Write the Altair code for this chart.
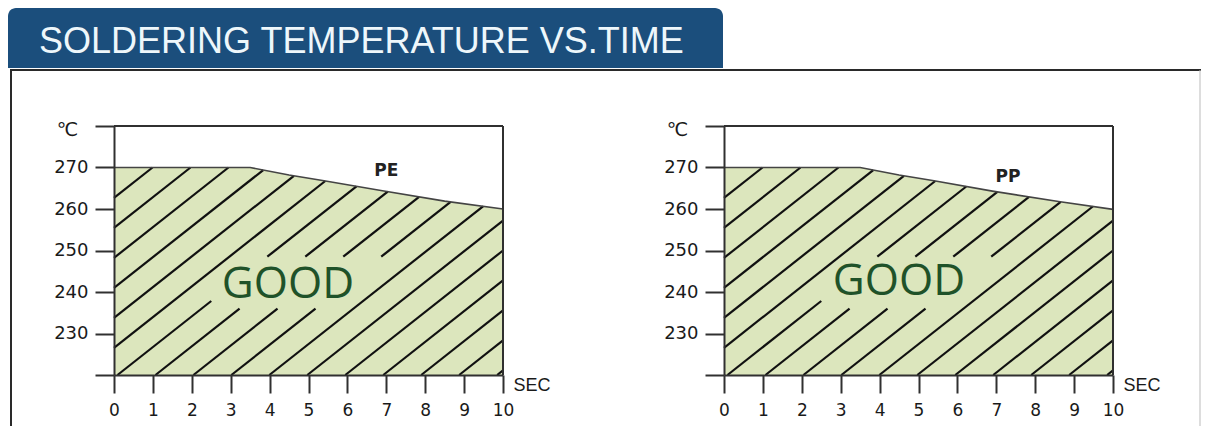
import altair as alt
import numpy as np
import pandas as pd

# ---------------- data ----------------
TITLE = "SOLDERING TEMPERATURE VS.TIME"
SEC_TICKS = [0, 1, 2, 3, 4, 5, 6, 7, 8, 9, 10]
TEMP_TICKS = [220, 230, 240, 250, 260, 270, 280]
PANELS = ["PE", "PP"]
PE_SEC = [0, 3.5, 4.5, 5.4, 6.9, 8.5, 10]
PE_TEMP = [270, 270, 268.2, 266.8, 264.4, 261.9, 260]
PP_SEC = [0, 3.5, 4.5, 5.4, 6.9, 8.6, 10]
PP_TEMP = [270, 270, 268.2, 266.8, 264.3, 261.8, 259.9]
LABEL_SEC = [7.0, 7.3]
LABEL_TEMP = [268.0, 266.6]
GOOD_TEXT = "GOOD"
GOOD_SEC = [4.47, 4.5]
GOOD_TEMP = [238.6, 239.3]

# ---------------- styling ----------------
W, H = 389, 249
AX = "#303030"
FILL = "#dce6bd"
BANNER = "#1b4e7c"
NUM_FONT = "DejaVu Sans"
TXT = "#1a1a1a"

# hatch pattern parameters (decoration)
H_SLOPE, H_STEP, H_OFF = 7.4, 0.976, 0.09
GAP_X, GAP_Y = (2.5, 7.0), (236.0, 248.5)


def hatch(xs, ys):
    rows = []
    y0 = 220.0
    top = lambda x: float(np.interp(x, xs, ys))
    line = lambda x, x0: y0 + H_SLOPE * (x - x0)
    inv = lambda y, x0: x0 + (y - y0) / H_SLOPE
    for k in range(-10, 14):
        x0 = H_OFF + k * H_STEP
        xa = max(0.0, x0)
        if xa >= 10 or line(xa, x0) >= top(xa):
            continue
        if line(10, x0) <= top(10):
            xb = 10.0
        else:
            lo, hi = xa, 10.0
            for _ in range(60):
                mid = (lo + hi) / 2
                if line(mid, x0) < top(mid):
                    lo = mid
                else:
                    hi = mid
            xb = lo
        ya, yb = line(xa, x0), line(xb, x0)
        pieces = [(ya, yb)]
        ymid = (GAP_Y[0] + GAP_Y[1]) / 2
        xm = inv(ymid, x0)
        if GAP_X[0] <= xm <= GAP_X[1]:
            c_lo = max(GAP_Y[0], line(GAP_X[0], x0))
            c_hi = min(GAP_Y[1], line(GAP_X[1], x0))
            pieces = [(ya, min(yb, c_lo)), (max(ya, c_hi), yb)]
        for p, q in pieces:
            if q - p > 0.3:
                rows.append({"x1": inv(p, x0), "y1": p, "x2": inv(q, x0), "y2": q})
    return pd.DataFrame(rows)


def make_axes():
    x_axis = alt.Axis(
        values=SEC_TICKS, tickSize=18, tickWidth=2, tickColor=AX,
        domainWidth=2, domainColor=AX, grid=False,
        labelFont=NUM_FONT, labelFontSize=17, labelColor=TXT,
        labelPadding=9, labelFlush=False, labelOverlap=False,
        title="SEC", titleX=W + 10, titleY=10, titleAlign="left",
        titleBaseline="middle", titleAngle=0, titleFont="Liberation Sans",
        titleFontSize=18, titleFontWeight="normal", titleColor=TXT,
        zindex=1,
    )
    y_axis = alt.Axis(
        values=TEMP_TICKS, tickSize=19, tickWidth=2, tickColor=AX,
        domainWidth=2, domainColor=AX, grid=False,
        labelExpr="datum.value == 220 || datum.value == 280 ? '' : datum.label",
        labelFont=NUM_FONT, labelFontSize=18, labelColor=TXT,
        labelPadding=7, labelOverlap=False,
        title="℃", titleX=-47, titleY=3, titleAlign="center",
        titleBaseline="middle", titleAngle=0, titleFont=NUM_FONT,
        titleFontSize=19, titleFontWeight="normal", titleColor=TXT,
        zindex=1,
    )
    return x_axis, y_axis


def panel(i, xs, ys, with_header):
    xsc = alt.Scale(domain=[0, 10], nice=False, zero=False)
    ysc = alt.Scale(domain=[220, 280], nice=False, zero=False)
    x_axis, y_axis = make_axes()
    X = lambda f: alt.X(f, type="quantitative", scale=xsc, axis=x_axis)
    Y = lambda f: alt.Y(f, type="quantitative", scale=ysc, axis=y_axis)

    curve = pd.DataFrame({"sec": xs, "temp": ys})
    area = alt.Chart(curve).mark_area(color=FILL, opacity=1).encode(
        x=X("sec"), y=Y("temp"), y2=alt.datum(220)
    )
    hdf = hatch(xs, ys)
    lines = alt.Chart(hdf).mark_rule(color="#111111", strokeWidth=2.2).encode(
        x=X("x1"), y=Y("y1"), x2="x2:Q", y2="y2:Q"
    )
    edge = alt.Chart(curve).mark_line(color="#444444", strokeWidth=1.6).encode(
        x=X("sec"), y=Y("temp")
    )
    one = pd.DataFrame({"d": [0]})
    frame_top = alt.Chart(one).mark_rule(color=AX, strokeWidth=2).encode(
        x=alt.value(0), x2=alt.value(W), y=alt.value(0)
    )
    frame_right = alt.Chart(one).mark_rule(color=AX, strokeWidth=2).encode(
        x=alt.value(W), y=alt.value(0), y2=alt.value(H)
    )
    lab = pd.DataFrame({"sec": [LABEL_SEC[i]], "temp": [LABEL_TEMP[i]], "t": [PANELS[i]]})
    label = alt.Chart(lab).mark_text(
        font=NUM_FONT, fontSize=17, fontWeight="bold", color="#222222",
        align="center", baseline="alphabetic",
    ).encode(x=X("sec"), y=Y("temp"), text="t:N")
    gd = pd.DataFrame({"sec": [GOOD_SEC[i]], "temp": [GOOD_TEMP[i]], "t": [GOOD_TEXT]})
    good = alt.Chart(gd).mark_text(
        font="Open Sans", fontSize=44, color="#1f5229",
        align="center", baseline="alphabetic",
    ).encode(x=X("sec"), y=Y("temp"), text="t:N")

    layers = [area, lines, edge, frame_top, frame_right, label, good]
    if with_header:
        banner = alt.Chart(one).mark_rect(
            color=BANNER, cornerRadiusTopLeft=8, cornerRadiusTopRight=8
        ).encode(x=alt.value(-106), x2=alt.value(609), y=alt.value(-118), y2=alt.value(-58))
        title = alt.Chart(pd.DataFrame({"t": [TITLE]})).mark_text(
            font="Liberation Sans", fontSize=36, color="#eef7fb",
            align="left", baseline="alphabetic",
        ).encode(x=alt.value(-75), y=alt.value(-73), text="t:N")
        fr_top = alt.Chart(one).mark_rule(color="#2a2a2a", strokeWidth=2).encode(
            x=alt.value(-104), x2=alt.value(1087), y=alt.value(-56)
        )
        fr_left = alt.Chart(one).mark_rule(color="#2a2a2a", strokeWidth=2).encode(
            x=alt.value(-103), y=alt.value(-56), y2=alt.value(300)
        )
        fr_right = alt.Chart(one).mark_rule(color="#bbbbbb", strokeWidth=1).encode(
            x=alt.value(1086), y=alt.value(-56), y2=alt.value(300)
        )
        layers = [banner, title, fr_top, fr_left, fr_right] + layers
    return alt.layer(*layers).properties(width=W, height=H)


p1 = panel(0, PE_SEC, PE_TEMP, True)
p2 = panel(1, PP_SEC, PP_TEMP, False)

chart = (
    alt.hconcat(p1, p2, spacing=221, bounds="flush")
    .properties(padding=0, background="white")
    .configure_view(stroke=None)
)

chart.save("out.html", embed_options={"renderer": "svg", "actions": False})
